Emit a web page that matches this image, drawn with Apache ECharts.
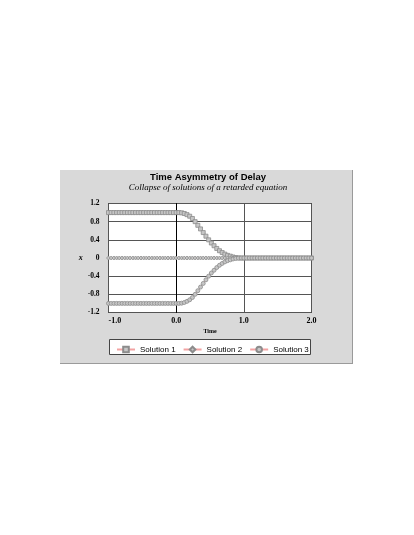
<!DOCTYPE html>
<html>
<head>
<meta charset="utf-8">
<script src="https://cdn.jsdelivr.net/npm/echarts@6/dist/echarts.min.js"></script>
<style>
html,body{margin:0;padding:0;background:#fff;}
#chart{width:414px;height:535px;}
</style>
</head>
<body>
<div id="chart"></div>
<script>
var titleText = 'Time Asymmetry of Delay';
var subtitleText = 'Collapse of solutions of a retarded equation';
var seriesNames = ['Solution 1', 'Solution 2', 'Solution 3'];
var xTickLabels = ['-1.0', '0.0', '1.0', '2.0'];
var yTickLabels = ['-1.2', '-0.8', '-0.4', '0', '0.4', '0.8', '1.2'];

var times = [
  -1.00,-0.96,-0.92,-0.88,-0.84,-0.80,-0.76,-0.72,-0.68,-0.64,-0.60,-0.56,-0.52,
  -0.48,-0.44,-0.40,-0.36,-0.32,-0.28,-0.24,-0.20,-0.16,-0.12,-0.08,-0.04,0.00,
  0.04,0.08,0.12,0.16,0.20,0.24,0.28,0.32,0.36,0.40,0.44,0.48,0.52,
  0.56,0.60,0.64,0.68,0.72,0.76,0.80,0.84,0.88,0.92,0.96,1.00,
  1.04,1.08,1.12,1.16,1.20,1.24,1.28,1.32,1.36,1.40,1.44,1.48,1.52,
  1.56,1.60,1.64,1.68,1.72,1.76,1.80,1.84,1.88,1.92,1.96,2.00
];

var solution1 = [
  1,1,1,1,1,1,1,1,1,1,1,1,1,
  1,1,1,1,1,1,1,1,1,1,1,1,1,
  1.0,0.995,0.98,0.955,0.92,0.87,0.80,0.72,0.64,0.56,0.48,0.40,0.33,
  0.27,0.21,0.16,0.12,0.085,0.058,0.04,0.022,0.01,0.003,0,0,
  0,0,0,0,0,0,0,0,0,0,0,0,0,
  0,0,0,0,0,0,0,0,0,0,0,0
];

var solution2 = [
  0,0,0,0,0,0,0,0,0,0,0,0,0,
  0,0,0,0,0,0,0,0,0,0,0,0,0,
  0,0,0,0,0,0,0,0,0,0,0,0,0,
  0,0,0,0,0,0,0,0,0,0,0,0,
  0,0,0,0,0,0,0,0,0,0,0,0,0,
  0,0,0,0,0,0,0,0,0,0,0,0
];

var solution3 = [
  -1,-1,-1,-1,-1,-1,-1,-1,-1,-1,-1,-1,-1,
  -1,-1,-1,-1,-1,-1,-1,-1,-1,-1,-1,-1,-1,
  -1.0,-0.995,-0.98,-0.955,-0.92,-0.87,-0.80,-0.72,-0.64,-0.56,-0.48,-0.40,-0.33,
  -0.27,-0.21,-0.16,-0.12,-0.085,-0.058,-0.04,-0.022,-0.01,-0.003,0,0,
  0,0,0,0,0,0,0,0,0,0,0,0,0,
  0,0,0,0,0,0,0,0,0,0,0,0
];

function pairs(vals) {
  return times.map(function (t, i) { return [t, vals[i]]; });
}

var SANS = '"Liberation Sans", Arial, sans-serif';
var SERIF = '"Liberation Serif", "Times New Roman", serif';

var chart = echarts.init(document.getElementById('chart'), null, {renderer: 'canvas'});

var markerStyle = {color: '#c6c6c6', borderColor: '#8c8c8c', borderWidth: 0.8};
var lineStyle = {color: '#f2a3a3', width: 1};

function mkSeries(name, vals, symbol, size) {
  return {
    name: name,
    type: 'line',
    data: pairs(vals),
    symbol: symbol,
    symbolSize: size,
    showSymbol: true,
    animation: false,
    lineStyle: lineStyle,
    itemStyle: markerStyle
  };
}

var option = {
  backgroundColor: '#ffffff',
  animation: false,
  graphic: [
    {type: 'rect', z: -10, shape: {x: 60, y: 170, width: 293, height: 193},
     style: {fill: '#d9d9d9', stroke: null}},
    {type: 'line', z: -9, shape: {x1: 352.5, y1: 170, x2: 352.5, y2: 363.5},
     style: {stroke: '#9a9a9a', lineWidth: 1}},
    {type: 'line', z: -9, shape: {x1: 60, y1: 363.5, x2: 353, y2: 363.5},
     style: {stroke: '#9a9a9a', lineWidth: 1}},
    {type: 'rect', z: -5, shape: {x: 109.5, y: 339.5, width: 201, height: 15},
     style: {fill: '#ffffff', stroke: '#444', lineWidth: 1}}
  ],
  title: {
    text: titleText,
    subtext: subtitleText,
    left: 208,
    textAlign: 'center',
    top: 172,
    itemGap: 1,
    padding: 0,
    textStyle: {fontFamily: SANS, fontWeight: 'bold', fontSize: 9.5, color: '#000'},
    subtextStyle: {fontFamily: SERIF, fontStyle: 'italic', fontSize: 9, color: '#000'}
  },
  legend: {
    data: seriesNames,
    left: 116,
    top: 345.5,
    padding: 0,
    itemWidth: 18,
    itemHeight: 7,
    itemGap: 7,
    textStyle: {fontFamily: SANS, fontSize: 8, color: '#000', padding: [2, 0, 0, 0]}
  },
  grid: {
    left: 108.5,
    top: 203.5,
    right: 102.5,
    bottom: 222.5,
    show: true,
    backgroundColor: '#ffffff',
    borderColor: '#000',
    borderWidth: 1,
    containLabel: false
  },
  xAxis: {
    type: 'value',
    min: -1,
    max: 2,
    interval: 1,
    name: 'Time',
    nameLocation: 'middle',
    nameGap: 16,
    nameTextStyle: {fontFamily: SERIF, fontWeight: 'bold', fontSize: 6, color: '#000'},
    axisLine: {show: true, lineStyle: {color: '#000'}},
    axisTick: {show: false},
    splitLine: {show: true, lineStyle: {color: '#555', width: 1}},
    axisLabel: {
      fontFamily: SERIF, fontWeight: 'bold', fontSize: 8, color: '#000', margin: 4,
      alignMinLabel: 'left',
      formatter: function (v) {
        var idx = Math.round(v + 1);
        return xTickLabels[idx];
      }
    }
  },
  yAxis: {
    type: 'value',
    min: -1.2,
    max: 1.2,
    interval: 0.4,
    name: 'x',
    nameLocation: 'middle',
    nameRotate: 0,
    nameGap: 24,
    nameTextStyle: {fontFamily: SERIF, fontStyle: 'italic', fontWeight: 'bold', fontSize: 8, color: '#000'},
    axisLine: {show: true, lineStyle: {color: '#000'}},
    axisTick: {show: false},
    splitLine: {show: true, lineStyle: {color: '#555', width: 1}},
    axisLabel: {
      fontFamily: SERIF, fontWeight: 'bold', fontSize: 7.5, color: '#000', margin: 9,
      formatter: function (v) {
        var idx = Math.round((v + 1.2) / 0.4);
        return yTickLabels[idx];
      }
    }
  },
  series: [
    mkSeries(seriesNames[0], solution1, 'rect', 4),
    mkSeries(seriesNames[1], solution2, 'diamond', 4),
    mkSeries(seriesNames[2], solution3, 'circle', 4)
  ]
};

chart.setOption(option);
</script>
</body>
</html>
